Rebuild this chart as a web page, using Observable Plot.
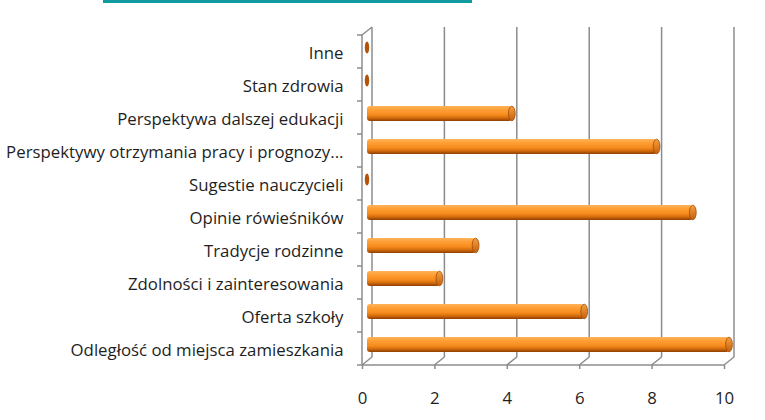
<!DOCTYPE html>
<html><head><meta charset="utf-8">
<script src="https://cdn.jsdelivr.net/npm/d3@7"></script>
<script src="https://cdn.jsdelivr.net/npm/@observablehq/plot@0.6"></script>
<style>
body{margin:0;background:#fff;}
#wrap{position:relative;width:765px;height:420px;}
#topline{position:absolute;left:103px;top:0;width:369px;height:3px;background:#0f9ba0;z-index:2;}
</style>
</head><body><div id="wrap"><div id="topline"></div></div>
<script>
const categories = ["Inne","Stan zdrowia","Perspektywa dalszej edukacji","Perspektywy otrzymania pracy i prognozy...","Sugestie nauczycieli","Opinie rówieśników","Tradycje rodzinne","Zdolności i zainteresowania","Oferta szkoły","Odległość od miejsca zamieszkania"];
const values = [0,0,4,8,0,9,3,2,6,10];
const xTicks = [0,2,4,6,8,10];

const data = categories.map((c,i)=>({category:c, value:values[i]}));
const DX = 10, DY = -8;
const GRID = "#8c8c8c";

function walls(index, {x, y}, values, dims) {
  const g = d3.create("svg:g").attr("stroke", GRID).attr("stroke-width", 1.5).attr("fill", "none");
  const top = dims.marginTop, bottom = dims.height - dims.marginBottom;
  const x0 = x(0);
  for (const t of xTicks) {
    g.append("line").attr("x1", x(t)+DX).attr("x2", x(t)+DX).attr("y1", top+DY).attr("y2", bottom+DY);
    g.append("line").attr("x1", x(t)).attr("x2", x(t)+DX).attr("y1", bottom).attr("y2", bottom+DY);
  }
  g.append("line").attr("x1", x0).attr("x2", x0).attr("y1", top).attr("y2", bottom);
  g.append("line").attr("x1", x0).attr("x2", x0+DX).attr("y1", top).attr("y2", top+DY);
  g.append("line").attr("x1", x0).attr("x2", x(xTicks[xTicks.length-1])).attr("y1", bottom).attr("y2", bottom);
  const bw = y.bandwidth();
  const bounds = new Set();
  for (const c of categories) { bounds.add(y(c)); bounds.add(y(c)+bw); }
  for (const b of bounds) g.append("line").attr("x1", x0-5).attr("x2", x0).attr("y1", b).attr("y2", b);
  return g.node();
}

function caps(index, {x, y}, values, dims) {
  const g = d3.create("svg:g");
  const bw = y.bandwidth();
  for (const d of data) {
    const cx = x(d.value) + DX/2, cy = y(d.category) + bw/2 + DY/2;
    if (d.value === 0) {
      g.append("ellipse").attr("cx", cx).attr("cy", cy).attr("rx", 2.2).attr("ry", 6).attr("fill", "#b3520a");
    } else {
      g.append("ellipse").attr("cx", cx).attr("cy", cy).attr("rx", 3.4).attr("ry", 7.3).attr("fill", "url(#capg)").attr("stroke", "#a04a06").attr("stroke-width", 0.8);
    }
  }
  return g.node();
}

const chart = Plot.plot({
  width: 765, height: 420,
  marginLeft: 362, marginRight: 41, marginTop: 35, marginBottom: 55,
  style: {fontFamily: "'Open Sans'", fontSize: "16.8px", background: "#fff", color: "#222"},
  x: {domain: [0, 10]},
  y: {domain: categories, padding: 0},
  marks: [
    walls,
    Plot.axisY({tickSize: 0, tickPadding: 19, label: null, fontSize: 16.8, dy: 2, fill: "#1e1e1e"}),
    Plot.axisX({ticks: xTicks, tickSize: 4, tickPadding: 23, label: null, fontSize: 16.8, stroke: GRID, strokeWidth: 1.5, fill: "#1e1e1e"}),
    Plot.barX(data.filter(d => d.value > 0), {x1: 0, x2: "value", y: "category", fill: "url(#cyl)", insetTop: 9, insetBottom: 9, dx: DX/2, dy: DY/2, rx: 3}),
    caps
  ]
});

chart.insertAdjacentHTML("afterbegin", `<defs>
<linearGradient id="cyl" x1="0" y1="0" x2="0" y2="1">
<stop offset="0" stop-color="#ffb35a"/>
<stop offset="0.25" stop-color="#ff9f35"/>
<stop offset="0.6" stop-color="#f58a1c"/>
<stop offset="0.8" stop-color="#d06a0c"/>
<stop offset="1" stop-color="#8e3e02"/>
</linearGradient>
<linearGradient id="capg" x1="0" y1="0" x2="0" y2="1">
<stop offset="0" stop-color="#f7a040"/>
<stop offset="1" stop-color="#c3600c"/>
</linearGradient>
</defs>`);

document.getElementById("wrap").appendChild(chart);
chart.style.position = "absolute";
chart.style.left = "0";
chart.style.top = "0";
</script>
</body></html>
